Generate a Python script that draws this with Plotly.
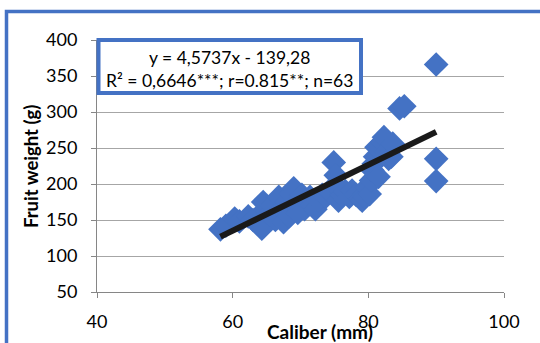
import plotly.graph_objects as go

# Data: caliber (mm) vs fruit weight (g), 63 fruits
caliber = [58.2, 59.0, 60.3, 61.0, 62.3, 63.0, 64.3, 64.5, 64.8, 65.3,
           65.8, 66.3, 66.8, 67.2, 67.5, 68.0, 68.3, 68.6, 69.0, 69.3,
           69.6, 70.0, 70.2, 70.6, 71.0, 71.4, 71.8, 72.2, 72.6, 73.2,
           73.7, 74.2, 74.9, 75.2, 75.5, 75.6, 76.1, 76.6, 77.2, 77.6,
           78.2, 78.8, 79.1, 79.5, 79.8, 80.2, 80.4, 80.6, 80.8, 81.0,
           81.2, 81.5, 82.0, 82.3, 82.6, 83.0, 83.4, 83.6, 84.6, 85.3,
           90.0, 90.0, 90.0]
weight = [137, 142, 152, 148, 155, 150, 138, 175, 165, 158,
          170, 150, 182, 165, 147, 175, 155, 186, 194, 170,
          160, 180, 185, 165, 175, 182, 170, 165, 178, 185,
          182, 190, 230, 212, 195, 177, 185, 190, 182, 191,
          185, 180, 177, 182, 196, 186, 205, 219, 228, 238,
          251, 210, 258, 265, 245, 235, 238, 256, 305, 308,
          366, 235, 204]

slope = 4.5737
intercept = -139.28
eq_text = "y = 4,5737x - 139,28"
stats_text = "R² = 0,6646***; r=0.815**; n=63"
x_title = "Caliber (mm)"
y_title = "Fruit weight (g)"

blue = "#4472C4"
font_family = "Lato, Carlito, Calibri, sans-serif"

fig = go.Figure()
fig.add_trace(go.Scatter(
    x=caliber, y=weight, mode="markers",
    marker=dict(symbol="diamond", size=19, color=blue,
                line=dict(width=0)),
    showlegend=False, hoverinfo="skip"))

x_line = [min(caliber), max(caliber)]
y_line = [slope * v + intercept for v in x_line]
fig.add_trace(go.Scatter(
    x=x_line, y=y_line, mode="lines",
    line=dict(color="#1a1a1a", width=6),
    showlegend=False, hoverinfo="skip"))

W, H = 540, 343
L, R, T, B = 97, 36, 40, 51
pw, ph = W - L - R, H - T - B

def px(x):
    return (x - L) / pw

def py(y):
    return (H - B - y) / ph

axis_common = dict(showline=True, linecolor="#868686", linewidth=1,
                   ticks="outside", ticklen=5, tickcolor="#868686",
                   tickfont=dict(family=font_family, size=18, color="#000000"),
                   zeroline=False)

fig.update_xaxes(range=[40, 100], dtick=20, tick0=40, showgrid=False,
                 ticklabelstandoff=8, **axis_common)
fig.update_yaxes(range=[50, 400], dtick=50, tick0=50, showgrid=True,
                 gridcolor="#A6A6A6", gridwidth=1, ticklabelstandoff=10,
                 **axis_common)

shapes = [
    # outer chart frame
    dict(type="rect", xref="paper", yref="paper",
         x0=px(6.5), x1=px(560), y0=py(360), y1=py(11.5),
         line=dict(color=blue, width=3.5), fillcolor="rgba(0,0,0,0)",
         layer="above"),
    # equation box
    dict(type="rect", xref="paper", yref="paper",
         x0=px(98.5), x1=px(361), y0=py(93), y1=py(40),
         line=dict(color=blue, width=4), fillcolor="white",
         layer="above"),
]

annotations = [
    dict(text=eq_text, xref="paper", yref="paper", x=px(229), y=py(57),
         showarrow=False, xanchor="center", yanchor="middle",
         font=dict(family=font_family, size=17.5, color="#000000")),
    dict(text=stats_text, xref="paper", yref="paper", x=px(229), y=py(80),
         showarrow=False, xanchor="center", yanchor="middle",
         font=dict(family=font_family, size=17.5, color="#000000")),
    dict(text="<b>" + x_title + "</b>", xref="paper", yref="paper",
         x=px(320), y=py(332), showarrow=False, xanchor="center",
         yanchor="middle",
         font=dict(family=font_family, size=19, color="#000000")),
    dict(text="<b>" + y_title + "</b>", xref="paper", yref="paper",
         x=px(31), y=py(167), showarrow=False, xanchor="center",
         yanchor="middle", textangle=-90,
         font=dict(family=font_family, size=18.5, color="#000000")),
]

fig.update_layout(
    width=W, height=H,
    margin=dict(l=L, r=R, t=T, b=B, pad=0),
    paper_bgcolor="white", plot_bgcolor="white",
    shapes=shapes, annotations=annotations,
    showlegend=False,
)

fig.write_html("out.html")
